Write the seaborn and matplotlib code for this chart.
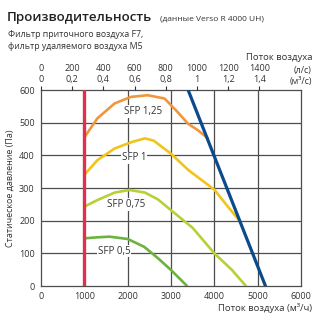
import matplotlib
matplotlib.use("Agg")
import matplotlib.pyplot as plt
import seaborn as sns
import pandas as pd

sns.set_style("white")
plt.rcParams["font.family"] = ["Open Sans", "DejaVu Sans"]

# Fan curves: airflow (m³/h) vs static pressure (Pa)
sfp125_x = [1000, 1300, 1700, 2080, 2460, 2850, 3150, 3390, 3620, 3850]
sfp125_y = [455, 513, 559, 579, 584, 574, 533, 497, 477, 452]
sfp1_x = [1000, 1300, 1700, 2100, 2400, 2600, 3000, 3400, 3600, 4000, 4300, 4580]
sfp1_y = [340, 385, 421, 441, 452, 445, 405, 355, 335, 295, 245, 200]
sfp075_x = [1000, 1300, 1700, 2040, 2400, 2700, 3000, 3500, 4000, 4400, 4730]
sfp075_y = [243, 263, 286, 294, 286, 265, 232, 178, 100, 50, 0]
sfp05_x = [1000, 1300, 1580, 2000, 2380, 2700, 3000, 3370]
sfp05_y = [146, 149, 151, 144, 120, 85, 49, 0]
limit_x = [3395, 5180]
limit_y = [600, 0]
min_x = [1000, 1000]
min_y = [0, 600]

curve_names = ["SFP 1,25", "SFP 1", "SFP 0,75", "SFP 0,5"]
curve_colors = ["#f0963c", "#f2c41a", "#b8d038", "#6cb23e"]
label_pos = [(2346, 535), (2146, 392), (1961, 250), (1690, 107)]

# Secondary scales on top
ls_ticks = [0, 200, 400, 600, 800, 1000, 1200, 1400]
m3s_labels = ["0", "0,2", "0,4", "0,6", "0,8", "1", "1,2", "1,4"]
bottom_ticks = [0, 1000, 2000, 3000, 4000, 5000, 6000]
y_ticks = [0, 100, 200, 300, 400, 500, 600]

fig = plt.figure(figsize=(3.25, 3.25), dpi=100)
ax = fig.add_axes([41 / 325, 1 - 286 / 325, 260 / 325, 196 / 325])

grid_c = "#4d4d4d"
for v in bottom_ticks[1:-1]:
    ax.axvline(v, color=grid_c, lw=0.9, zorder=1)
for v in y_ticks[1:-1]:
    ax.axhline(v, color=grid_c, lw=0.9, zorder=1)

curves = [(sfp125_x, sfp125_y), (sfp1_x, sfp1_y), (sfp075_x, sfp075_y), (sfp05_x, sfp05_y)]
for (cx, cy), name, col in zip(curves, curve_names, curve_colors):
    df = pd.DataFrame({"x": cx, "y": cy})
    sns.lineplot(data=df, x="x", y="y", ax=ax, color=col, lw=1.9, sort=False,
                 estimator=None, zorder=3)

sns.lineplot(x=min_x, y=min_y, ax=ax, color="#e0304e", lw=2.4, sort=False,
             estimator=None, zorder=4)
sns.lineplot(x=limit_x, y=limit_y, ax=ax, color="#0b4a8b", lw=2.3, sort=False,
             estimator=None, zorder=4)

for name, (lx, ly) in zip(curve_names, label_pos):
    ax.text(lx, ly, name, fontsize=7, color="#333333", ha="center", va="center", zorder=5,
            bbox=dict(boxstyle="square,pad=0.08", fc="white", ec="none"))

ax.set_xlim(0, 6000)
ax.set_ylim(0, 600)
ax.set_xticks(bottom_ticks)
ax.set_yticks(y_ticks)
ax.set_xlabel("")
ax.tick_params(axis="both", labelsize=6.5, colors="#333333", length=3, width=0.8,
               direction="out", pad=1.5)
ax.tick_params(axis="x", length=0, pad=4)
for s in ax.spines.values():
    s.set_color(grid_c)
    s.set_linewidth(0.9)

ax.set_ylabel("Статическое давление (Па)", fontsize=6.5, color="#333333", labelpad=3)

top = ax.twiny()
top.set_xlim(0, 6000)
top.set_xticks([v * 3.6 for v in ls_ticks])
top.set_xticklabels([f"{a}\n{b}" for a, b in zip(ls_ticks, m3s_labels)], fontsize=6.5,
                    color="#333333", linespacing=1.3)
top.tick_params(axis="x", length=3, width=0.8, colors="#333333", pad=1)
for s in top.spines.values():
    s.set_visible(False)

fig.text(312 / 325, 1 - 76 / 325, "(л/с)\n(м³/с)", fontsize=6.5, color="#333333",
         ha="right", va="center", linespacing=1.3)
fig.text(312 / 325, 1 - 57 / 325, "Поток воздуха", fontsize=6.8, color="#333333",
         ha="right", va="center")
fig.text(312 / 325, 1 - 308 / 325, "Поток воздуха (м³/ч)", fontsize=6.8, color="#333333",
         ha="right", va="center")

fig.text(7 / 325, 1 - 17 / 325, "Производительность", fontsize=9.6, fontweight="semibold",
         color="#222222", ha="left", va="center")
fig.text(160 / 325, 1 - 19 / 325, "(данные Verso R 4000 UH)", fontsize=6.0, color="#333333",
         ha="left", va="center")
fig.text(8 / 325, 1 - 40.5 / 325, "Фильтр приточного воздуха F7,\nфильтр удаляемого воздуха M5",
         fontsize=6.3, color="#333333", ha="left", va="center", linespacing=1.45)

fig.savefig("out.png", dpi=100, facecolor="white")
